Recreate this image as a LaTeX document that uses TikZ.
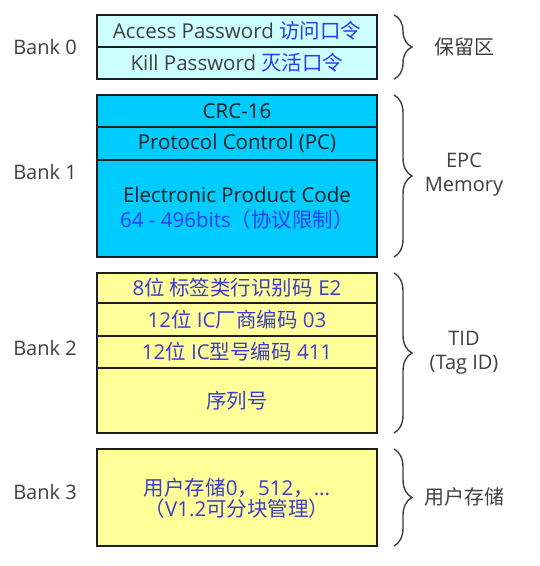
\documentclass[tikz,border=0pt]{standalone}
\usepackage{fontspec}
\setmainfont{Open Sans}
\newfontfamily\cjk{Noto Sans CJK SC}
\usetikzlibrary{decorations.pathreplacing}
\definecolor{cyanlight}{RGB}{204,255,255}
\definecolor{cyandeep}{RGB}{0,204,255}
\definecolor{yellowlight}{RGB}{255,255,153}
\definecolor{cblue}{RGB}{40,60,255}
\definecolor{tblue}{RGB}{60,60,205}
\definecolor{labgray}{RGB}{64,64,64}
\definecolor{edge}{RGB}{30,30,30}
\tikzset{
  cell/.style={draw=edge, line width=1.8pt, minimum width=280pt, inner sep=0pt, anchor=center, align=center, font=\fontsize{20.5}{24}\selectfont},
  celltext/.style={anchor=center, font=\fontsize{20.5}{24}\selectfont},
  banklab/.style={text=labgray, anchor=center},
  sidelab/.style={text=labgray, anchor=center, align=center},
  bracestyle/.style={draw=labgray, line width=1.4pt, decorate, decoration={brace, amplitude=18pt}}
}
\begin{document}
\begin{tikzpicture}[x=1pt,y=-1pt,font=\fontsize{20}{24}\selectfont]
\useasboundingbox (0,0) rectangle (540,566);
\fill[white] (0,0) rectangle (540,566);
% Bank 0
\node[cell, fill=cyanlight, minimum height=32pt, text=labgray] (ap) at (237,31) {Access Password {\cjk\color{cblue}访问口令}};
\node[cell, fill=cyanlight, minimum height=32pt, text=labgray] (kp) at (237,63) {Kill Password {\cjk\color{cblue}灭活口令}};
% Bank 1
\node[cell, fill=cyandeep, minimum height=32pt, text=edge] (crc) at (237,111) {CRC-16};
\node[cell, fill=cyandeep, minimum height=33pt, text=edge] (pc) at (237,143.5) {Protocol Control (PC)};
\node[cell, fill=cyandeep, minimum height=97pt, text=edge] (epc) at (237,208.5) {};
\node[celltext, text=edge] (epct) at (237,195) {Electronic Product Code};
\node[celltext, text=cblue] (epcb) at (237,220) {64 - 496bits{\cjk（协议限制）}};
% Bank 2
\node[cell, fill=yellowlight, minimum height=30pt, text=tblue] (t1) at (237,288) {8{\cjk 位 标签类行识别码} E2};
\node[cell, fill=yellowlight, minimum height=33pt, text=tblue] (t2) at (237,319.5) {12{\cjk 位} IC{\cjk 厂商编码} 03};
\node[cell, fill=yellowlight, minimum height=32pt, text=tblue] (t3) at (237,352) {12{\cjk 位} IC{\cjk 型号编码} 411};
\node[cell, fill=yellowlight, minimum height=65pt, text=tblue] (t4) at (237,400.5) {\cjk 序列号};
% Bank 3
\node[cell, fill=yellowlight, minimum height=97pt] (u) at (237,497.5) {};
\node[celltext, text=tblue] (u1) at (237,488) {{\cjk 用户存储}0{\cjk ，}512{\cjk ，}...};
\node[celltext, text=tblue] (u2) at (237,509) {{\cjk （}V1.2{\cjk 可分块管理）}};
% left labels
\node[banklab] (b0) at (45,47) {Bank 0};
\node[banklab] (b1) at (45,172) {Bank 1};
\node[banklab] (b2) at (45,348) {Bank 2};
\node[banklab] (b3) at (45,492) {Bank 3};
% brace coordinates
\coordinate (r0t) at (394,15);  \coordinate (r0b) at (394,79);
\coordinate (r1t) at (394,95);  \coordinate (r1b) at (394,257);
\coordinate (r2t) at (394,273); \coordinate (r2b) at (394,433);
\coordinate (r3t) at (394,449); \coordinate (r3b) at (394,546);
\draw[bracestyle] (r0t) -- (r0b);
\draw[bracestyle] (r1t) -- (r1b);
\draw[bracestyle] (r2t) -- (r2b);
\draw[bracestyle] (r3t) -- (r3b);
% right labels
\node[sidelab] (s0) at (464,47) {\cjk 保留区};
\node[sidelab] (s1) at (464,175) {EPC\\Memory};
\node[sidelab] (s2) at (464,353) {TID\\(Tag ID)};
\node[sidelab] (s3) at (464,497) {\cjk 用户存储};
\end{tikzpicture}
\end{document}
